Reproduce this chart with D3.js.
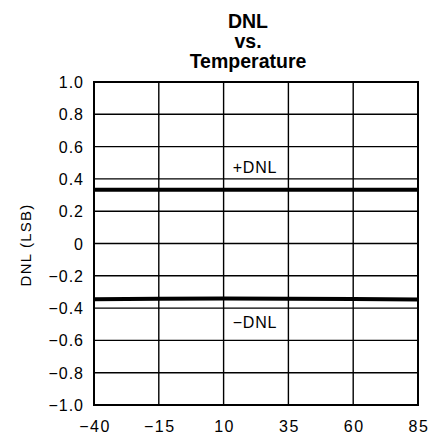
<!DOCTYPE html>
<html><head><meta charset="utf-8">
<script src="https://cdn.jsdelivr.net/npm/d3@7"></script>
<style>body{margin:0;background:#fff}svg{display:block}</style>
</head><body>
<svg id="c" width="434" height="440"></svg>
<script>
const titleLines = ["DNL", "vs.", "Temperature"];
const xTicks = [-40, -15, 10, 35, 60, 85];
const yTicks = [1.0, 0.8, 0.6, 0.4, 0.2, 0, -0.2, -0.4, -0.6, -0.8, -1.0];
const temps = [-40, -15, 10, 35, 60, 85];
const dnlPos = [0.333, 0.333, 0.333, 0.333, 0.333, 0.333];
const dnlNeg = [-0.345, -0.342, -0.340, -0.342, -0.344, -0.346];
const seriesLabels = ["+DNL", "\u2212DNL"];
const yLabel = "DNL (LSB)";

const svg = d3.select("#c");
const m = {l: 94, r: 418, t: 82, b: 405};
const x = d3.scaleLinear().domain([-40, 85]).range([m.l, m.r]);
const y = d3.scaleLinear().domain([-1, 1]).range([m.b, m.t]);
const font = "'Liberation Sans', Arial, sans-serif";

// title
svg.append("g").selectAll("text").data(titleLines).join("text")
  .attr("x", 248).attr("y", (d,i) => 28 + i*20)
  .attr("text-anchor", "middle").attr("font-family", "'Liberation Sans', Arial, sans-serif")
  .attr("font-weight", "bold").attr("font-size", 19.5).text(d => d);

// grid
const g = svg.append("g");
g.selectAll("line.h").data(yTicks).join("line")
  .attr("x1", m.l).attr("x2", m.r).attr("y1", d => y(d)).attr("y2", d => y(d))
  .attr("stroke", "#000").attr("stroke-width", 1.4);
g.selectAll("line.v").data(xTicks).join("line")
  .attr("y1", m.t).attr("y2", m.b).attr("x1", d => x(d)).attr("x2", d => x(d))
  .attr("stroke", "#000").attr("stroke-width", 1.4);
g.append("rect").attr("x", m.l).attr("y", m.t).attr("width", m.r - m.l).attr("height", m.b - m.t)
  .attr("fill", "none").attr("stroke", "#000").attr("stroke-width", 2);

// axes labels
const fmt = d => d === 0 ? "0" : d3.format(".1f")(d).replace("-", "\u2212");
svg.append("g").selectAll("text").data(yTicks).join("text")
  .attr("x", 84).attr("y", d => y(d) + 6).attr("text-anchor", "end")
  .attr("font-family", font).attr("font-size", 16).attr("letter-spacing", 1).text(fmt);
svg.append("g").selectAll("text").data(xTicks).join("text")
  .attr("x", d => x(d) + 1).attr("y", 432).attr("text-anchor", "middle")
  .attr("font-family", font).attr("font-size", 16).attr("letter-spacing", 1.5)
  .text(d => String(d).replace("-", "\u2212"));

svg.append("text").attr("transform", "translate(31,245) rotate(-90)")
  .attr("text-anchor", "middle").attr("font-family", font).attr("font-size", 15)
  .attr("letter-spacing", 1.2).text(yLabel);

// data lines
const line = d3.line().x(d => x(d[0])).y(d => y(d[1]));
[dnlPos, dnlNeg].forEach(s => {
  svg.append("path").datum(temps.map((t,i) => [t, s[i]])).attr("d", line)
    .attr("fill", "none").attr("stroke", "#000").attr("stroke-width", 4);
});

// series labels
svg.append("g").selectAll("text").data(seriesLabels).join("text")
  .attr("x", 255).attr("y", (d,i) => i === 0 ? 173 : 328).attr("text-anchor", "middle")
  .attr("font-family", font).attr("font-size", 16).attr("letter-spacing", 0.8).text(d => d);
</script>
</body></html>
